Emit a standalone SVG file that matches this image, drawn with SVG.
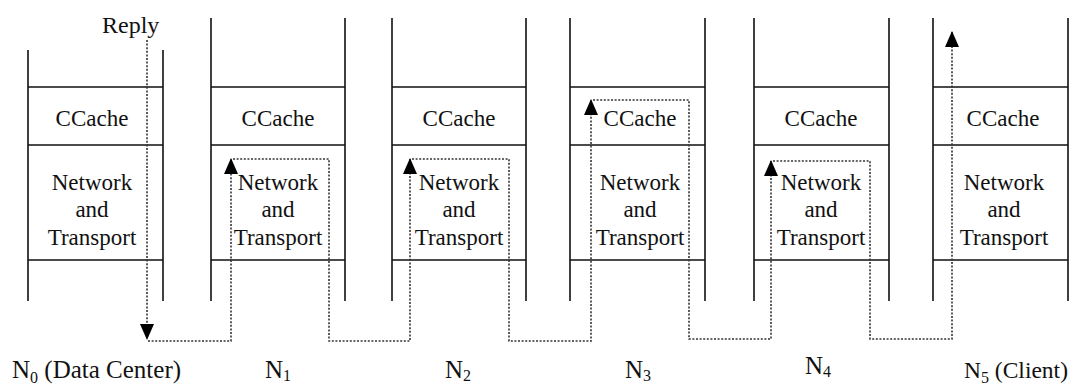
<svg xmlns="http://www.w3.org/2000/svg" width="1070" height="385" viewBox="0 0 1070 385" font-family="Liberation Serif, serif">
<style>
.ln{stroke:#111;stroke-width:1.6;fill:none}
.tx{font-family:'Liberation Serif',serif;font-size:23px;fill:#111;text-anchor:middle}
.lb{font-family:'Liberation Serif',serif;font-size:25px;fill:#111}
.sub{font-size:16px}
.c{stroke:#333;stroke-width:1.6;stroke-dasharray:2 1.6;fill:none}
</style>
<defs>
<marker id="ah" viewBox="0 0 16 14" refX="15" refY="7" markerWidth="16" markerHeight="14" markerUnits="userSpaceOnUse" orient="auto">
<path d="M0,0 L16,7 L0,14 z" fill="#000"/>
</marker>
</defs>
<rect width="1070" height="385" fill="#fff"/>
<text class="lb" x="102" y="33" style="font-size:24px">Reply</text>
<g id="n0" font-family="Liberation Serif, serif">
<path class="ln" d="M28,50 V301 M163,50 V301 M28,87 H163 M28,145 H163 M28,260 H163"/>
<text class="tx" x="92" y="126">CCache</text>
<text class="tx" x="92" y="190">Network</text>
<text class="tx" x="92" y="217">and</text>
<text class="tx" x="92" y="245">Transport</text>
<text class="lb" x="12" y="378">N<tspan class="sub" dy="5">0</tspan><tspan dy="-5"> (Data Center)</tspan></text>
</g>
<g id="n1" font-family="Liberation Serif, serif">
<path class="ln" d="M211,18 V301 M345,18 V301 M211,87 H345 M211,145 H345 M211,260 H345"/>
<text class="tx" x="278" y="126">CCache</text>
<text class="tx" x="278" y="190">Network</text>
<text class="tx" x="278" y="217">and</text>
<text class="tx" x="278" y="245">Transport</text>
<text class="lb" x="265" y="378">N<tspan class="sub" dy="3">1</tspan></text>
</g>
<g id="n2" font-family="Liberation Serif, serif">
<path class="ln" d="M392,18 V301 M526,18 V301 M392,87 H526 M392,145 H526 M392,260 H526"/>
<text class="tx" x="459" y="126">CCache</text>
<text class="tx" x="459" y="190">Network</text>
<text class="tx" x="459" y="217">and</text>
<text class="tx" x="459" y="245">Transport</text>
<text class="lb" x="445" y="378">N<tspan class="sub" dy="3">2</tspan></text>
</g>
<g id="n3" font-family="Liberation Serif, serif">
<path class="ln" d="M570,18 V301 M705,18 V301 M570,87 H705 M570,145 H705 M570,260 H705"/>
<text class="tx" x="640" y="126">CCache</text>
<text class="tx" x="640" y="190">Network</text>
<text class="tx" x="640" y="217">and</text>
<text class="tx" x="640" y="245">Transport</text>
<text class="lb" x="625" y="378">N<tspan class="sub" dy="3">3</tspan></text>
</g>
<g id="n4" font-family="Liberation Serif, serif">
<path class="ln" d="M754,18 V301 M889,18 V301 M754,87 H889 M754,145 H889 M754,260 H889"/>
<text class="tx" x="821" y="126">CCache</text>
<text class="tx" x="821" y="190">Network</text>
<text class="tx" x="821" y="217">and</text>
<text class="tx" x="821" y="245">Transport</text>
<text class="lb" x="805" y="374">N<tspan class="sub" dy="3">4</tspan></text>
</g>
<g id="n5" font-family="Liberation Serif, serif">
<path class="ln" d="M933,18 V301 M1068,18 V301 M933,87 H1068 M933,145 H1068 M933,260 H1068"/>
<text class="tx" x="1003" y="126">CCache</text>
<text class="tx" x="1004" y="190">Network</text>
<text class="tx" x="1004" y="217">and</text>
<text class="tx" x="1004" y="245">Transport</text>
<text class="lb" x="964" y="378" style="font-size:23.5px">N<tspan class="sub" dy="5">5</tspan><tspan dy="-5"> (Client)</tspan></text>
</g>
<g id="connectors">
<path class="c" d="M147,40 V339" marker-end="url(#ah)"/>
<path class="c" d="M148,341 H231 V159" marker-end="url(#ah)"/>
<path class="c" d="M233,159 H329 V341 H410 V159" marker-end="url(#ah)"/>
<path class="c" d="M412,159 H509 V341 H591 V100" marker-end="url(#ah)"/>
<path class="c" d="M593,100 H689 V339 H771 V161" marker-end="url(#ah)"/>
<path class="c" d="M773,161 H870 V339 H952 V32" marker-end="url(#ah)"/>
</g>
</svg>
